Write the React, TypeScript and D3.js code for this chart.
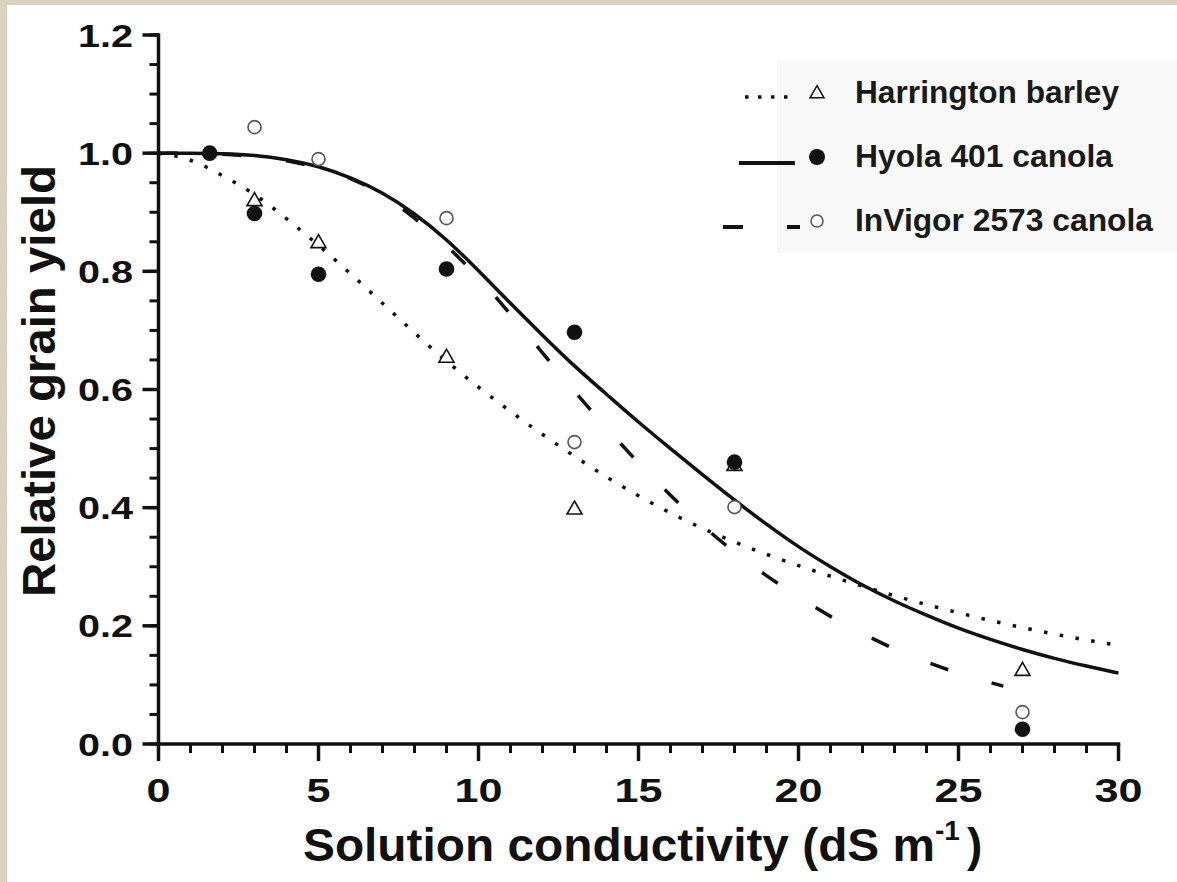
import React from "react";
import * as d3 from "d3";

// ---- data ----
const curveX = [0, 1, 2, 3, 4, 5, 6, 7, 8, 9, 10, 11, 12, 13, 14, 15, 16, 17, 18, 19, 20, 21, 22, 23, 24, 25, 26, 27, 28, 29, 30];
const barleyFit = [1.0, 0.988, 0.962, 0.93, 0.889, 0.844, 0.796, 0.746, 0.696, 0.648, 0.604, 0.563, 0.524, 0.487, 0.452, 0.42, 0.391, 0.365, 0.342, 0.321, 0.302, 0.284, 0.267, 0.251, 0.236, 0.222, 0.209, 0.197, 0.186, 0.176, 0.167];
const hyolaFit = [1.0, 1.0, 0.999, 0.996, 0.989, 0.977, 0.958, 0.932, 0.897, 0.853, 0.801, 0.746, 0.692, 0.64, 0.592, 0.545, 0.5, 0.456, 0.413, 0.372, 0.334, 0.3, 0.269, 0.242, 0.218, 0.196, 0.177, 0.16, 0.145, 0.132, 0.12];
const invigorFitX = [0, 1, 2, 3, 4, 5, 6, 7, 8, 9, 10, 11, 12, 13, 14, 15, 16, 17, 18, 19, 20, 21, 22, 23, 24, 25, 26, 26.4];
const invigorFit = [1.0, 1.0, 0.998, 0.994, 0.987, 0.975, 0.957, 0.929, 0.89, 0.843, 0.789, 0.727, 0.662, 0.597, 0.535, 0.476, 0.421, 0.37, 0.325, 0.285, 0.249, 0.216, 0.187, 0.161, 0.139, 0.12, 0.104, 0.098];

const obsX = [1.6, 3, 5, 9, 13, 18, 27];
const barleyObsX = [3, 5, 9, 13, 18, 27];
const barleyObs = [0.92, 0.849, 0.655, 0.398, 0.472, 0.125];
const hyolaObs = [1.0, 0.898, 0.795, 0.804, 0.697, 0.477, 0.025];
const invigorObs = [1.0, 1.044, 0.99, 0.89, 0.511, 0.401, 0.054];

const xMajor = [0, 5, 10, 15, 20, 25, 30];
const xMinor = d3.range(0, 31, 1);
const yMajor = [0, 0.2, 0.4, 0.6, 0.8, 1.0, 1.2];
const yMajorLabels = ["0.0", "0.2", "0.4", "0.6", "0.8", "1.0", "1.2"];
const yMinor = d3.range(0, 1.2001, 0.05);

const legendLabels = ["Harrington barley", "Hyola 401 canola", "InVigor 2573 canola"];

const W = 1177;
const H = 882;
const FONT = "'Liberation Sans', Arial, sans-serif";
const INK = "#111";

export default function App() {
  const x = d3.scaleLinear().domain([0, 30]).range([158.5, 1118.5]);
  const y = d3.scaleLinear().domain([0, 1.2]).range([744, 35]);

  const line = (xs: number[], ys: number[]) =>
    d3
      .line<number>()
      .x((_, i) => x(xs[i]))
      .y((d) => y(d))
      .curve(d3.curveNatural)(ys) || "";

  const tri = (cx: number, cy: number, s: number) => {
    const h = s * 0.87;
    return `M${cx},${cy - h * 0.6}L${cx + s / 2},${cy + h * 0.4}L${cx - s / 2},${cy + h * 0.4}Z`;
  };

  const legendRows = [103, 167, 231];

  return (
    <svg
      width={W}
      height={H}
      style={{ position: "absolute", left: 0, top: 0, display: "block" }}
      fontFamily={FONT}
    >
      <rect x={0} y={0} width={W} height={H} fill="#d9d0bd" />
      <rect x={7} y={5} width={W - 7} height={H - 5} fill="#ffffff" />
      {/* legend background */}
      <rect x={777} y={60} width={400} height={193} fill="#f8f8f8" />

      {/* curves */}
      <path d={line(curveX, barleyFit)} fill="none" stroke={INK} strokeWidth={3.5} strokeDasharray="3.5 12.5" />
      <path d={line(curveX, hyolaFit)} fill="none" stroke={INK} strokeWidth={3.5} />
      <path d={line(invigorFitX, invigorFit)} fill="none" stroke={INK} strokeWidth={3.5} strokeDasharray="19 45" />

      {/* observations */}
      {barleyObsX.map((v, i) => (
        <path key={"t" + i} d={tri(x(v), y(barleyObs[i]), 15)} fill="#fff" stroke={INK} strokeWidth={1.6} />
      ))}
      {obsX.map((v, i) => (
        <circle key={"o" + i} cx={x(v)} cy={y(invigorObs[i])} r={6.5} fill="#fff" stroke="#555" strokeWidth={1.6} />
      ))}
      {obsX.map((v, i) => (
        <circle key={"f" + i} cx={x(v)} cy={y(hyolaObs[i])} r={7.8} fill={INK} />
      ))}

      {/* axes */}
      <line x1={x(0)} x2={x(0)} y1={y(1.2)} y2={y(0)} stroke={INK} strokeWidth={3.5} strokeLinecap="square" />
      <line x1={x(0)} x2={x(30)} y1={y(0)} y2={y(0)} stroke={INK} strokeWidth={3.5} strokeLinecap="square" />
      {yMinor.map((v, i) => (
        <line key={"ym" + i} x1={x(0) - 9} x2={x(0)} y1={y(v)} y2={y(v)} stroke={INK} strokeWidth={3} />
      ))}
      {yMajor.map((v, i) => (
        <line key={"yM" + i} x1={x(0) - 16} x2={x(0)} y1={y(v)} y2={y(v)} stroke={INK} strokeWidth={3.5} />
      ))}
      {xMinor.map((v, i) => (
        <line key={"xm" + i} x1={x(v)} x2={x(v)} y1={y(0)} y2={y(0) + 9} stroke={INK} strokeWidth={3} />
      ))}
      {xMajor.map((v, i) => (
        <line key={"xM" + i} x1={x(v)} x2={x(v)} y1={y(0)} y2={y(0) + 17} stroke={INK} strokeWidth={3.5} />
      ))}

      {/* tick labels */}
      {yMajor.map((v, i) => (
        <text
          key={"yl" + i}
          x={133}
          y={y(v) + 11.5}
          textAnchor="end"
          fontSize={32}
          fontWeight="bold"
          fill={INK}
          textLength={55}
          lengthAdjust="spacingAndGlyphs"
        >
          {yMajorLabels[i]}
        </text>
      ))}
      {xMajor.map((v, i) => (
        <text
          key={"xl" + i}
          x={x(v)}
          y={802}
          textAnchor="middle"
          fontSize={34}
          fontWeight="bold"
          fill={INK}
          textLength={String(v).length * 24}
          lengthAdjust="spacingAndGlyphs"
        >
          {String(v)}
        </text>
      ))}

      {/* axis titles */}
      <text x={303} y={861} fontSize={46} fontWeight="bold" fill={INK} textLength={632} lengthAdjust="spacingAndGlyphs">
        Solution conductivity (dS m
      </text>
      <text x={935} y={840} fontSize={28} fontWeight="bold" fill={INK}>
        -1
      </text>
      <text x={967} y={861} fontSize={46} fontWeight="bold" fill={INK}>
        )
      </text>
      <text
        transform="translate(55,597) rotate(-90)"
        fontSize={46}
        fontWeight="bold"
        fill={INK}
        textLength={432}
        lengthAdjust="spacingAndGlyphs"
      >
        Relative grain yield
      </text>

      {/* legend */}
      <line x1={745} x2={795} y1={97} y2={97} stroke={INK} strokeWidth={3.5} strokeDasharray="3.5 9.5" />
      <path d={tri(817, 93, 14)} fill="#fff" stroke={INK} strokeWidth={1.5} />
      <line x1={739} x2={795} y1={163} y2={163} stroke={INK} strokeWidth={4} />
      <circle cx={817} cy={157} r={8} fill={INK} />
      <line x1={723} x2={743} y1={227} y2={227} stroke={INK} strokeWidth={4} />
      <line x1={787} x2={800} y1={227} y2={227} stroke={INK} strokeWidth={4} />
      <circle cx={817} cy={221} r={6} fill="#fff" stroke="#555" strokeWidth={1.5} />
      {legendLabels.map((t, i) => (
        <text
          key={"lg" + i}
          x={855}
          y={legendRows[i]}
          fontSize={31}
          fontWeight="bold"
          fill="#1a1a1a"
          textLength={[264, 258, 298][i]}
          lengthAdjust="spacingAndGlyphs"
        >
          {t}
        </text>
      ))}
    </svg>
  );
}
